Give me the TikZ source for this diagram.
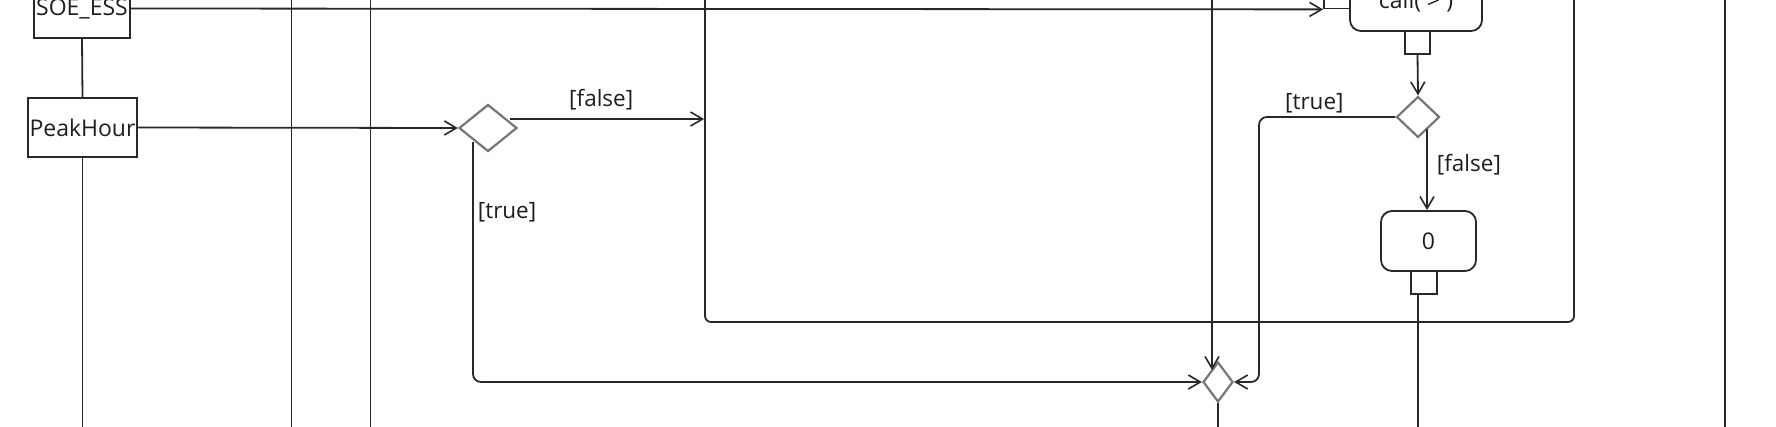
\documentclass[tikz,border=0pt]{standalone}
\usepackage{fontspec}
\setmainfont{Open Sans}
\usetikzlibrary{shapes.geometric,arrows.meta,calc}
\definecolor{lc}{RGB}{40,40,40}
\definecolor{dc}{RGB}{118,118,118}
\definecolor{tc}{RGB}{30,30,30}
\begin{document}
\begin{tikzpicture}[x=1pt,y=-1pt,
  ln/.style={draw=lc,line width=1.8pt},
  arr/.style={ln,-{Straight Barb[length=12pt,width=14pt,line width=1.6pt]}},
  box/.style={ln,rectangle,inner sep=0pt,font=\fontsize{23}{27}\selectfont,text=tc},
  act/.style={box,rounded corners=11pt},
  pinbox/.style={ln,rectangle,inner sep=0pt,minimum width=26pt,minimum height=23pt},
  dec/.style={draw=dc,line width=2.2pt,diamond,inner sep=0pt},
  lbl/.style={font=\fontsize{22.5}{26}\selectfont,text=tc,inner sep=0pt}]
\useasboundingbox (0,0) rectangle (1776,426);
\clip (0,0) rectangle (1776,426);
\fill[white] (0,0) rectangle (1776,426);
\coordinate (B) at (0,440);
% nodes
\node[box,minimum width=96pt,minimum height=59pt] (soe) at (82,8.5) {SOE\_ESS};
\node[box,minimum width=109pt,minimum height=59pt] (peak) at (82.5,127.5) {PeakHour};
\node[dec,minimum width=58pt,minimum height=47pt] (d1) at (488,128) {};
\node[ln,rectangle,rounded corners=6pt,minimum width=869pt,minimum height=522pt] (big) at (1139.5,61) {};
\node[act,minimum width=132pt,minimum height=58pt] (call) at (1416,2) {call( > )};
\node[pinbox] (pin1) at (1337,-3) {};
\node[pinbox,minimum width=25pt] (pin2) at (1417.5,42.5) {};
\node[dec,minimum width=43pt,minimum height=41pt] (d2) at (1418,117) {};
\node[act,minimum width=95pt,minimum height=60pt] (zero) at (1428.5,241) {0};
\node[pinbox] (pin3) at (1424,282.5) {};
\node[dec,minimum width=30pt,minimum height=40pt] (d3) at (1218,382) {};
% free vertical lines
\coordinate (v1t) at (291.5,-10); \coordinate (v1b) at (291.5,440);
\coordinate (v2t) at (370.5,-10); \coordinate (v2b) at (370.5,440);
\coordinate (v4t) at (1725,-10);  \coordinate (v4b) at (1725,440);
\draw[ln] (v1t) -- (v1b);
\draw[ln] (v2t) -- (v2b);
\draw[ln] (v4t) -- (v4b);
% connectors
\draw[ln] (soe.south) -- (peak.north);
\draw[ln] (peak.south) -- (peak.south |- B);
\draw[arr] (soe.east) -- (pin1.south west);
\draw[arr] (peak.east) -- (d1.west);
\coordinate (f1) at (510,119);
\draw[arr] (f1) -- (f1 -| big.west) node[lbl,pos=0.47,yshift=19pt] {[false]};
\coordinate (t1) at (473,142);
\draw[arr,rounded corners=8pt] (t1) |- node[lbl,pos=0.146,anchor=west,xshift=4pt] {[true]} (d3.west);
\coordinate (tp) at (1212,-10); \coordinate (ti) at (1212,370);
\draw[arr] (tp) -- (ti);
\coordinate (r1) at (1259,382);
\draw[arr,rounded corners=8pt] (d2.west) -| node[lbl,pos=0.297,yshift=14pt] {[true]} (r1) -- (d3.east);
\draw[arr] (pin2.south) -- (d2.north);
\coordinate (f2) at (1427,129);
\draw[arr] (f2) -- (f2 |- zero.north) node[lbl,pos=0.44,anchor=west,xshift=9pt] {[false]};
\coordinate (z1) at (1418,294);
\draw[ln] (z1) -- (z1 |- B);
\draw[ln] (d3.south) -- (d3.south |- B);
\end{tikzpicture}
\end{document}
